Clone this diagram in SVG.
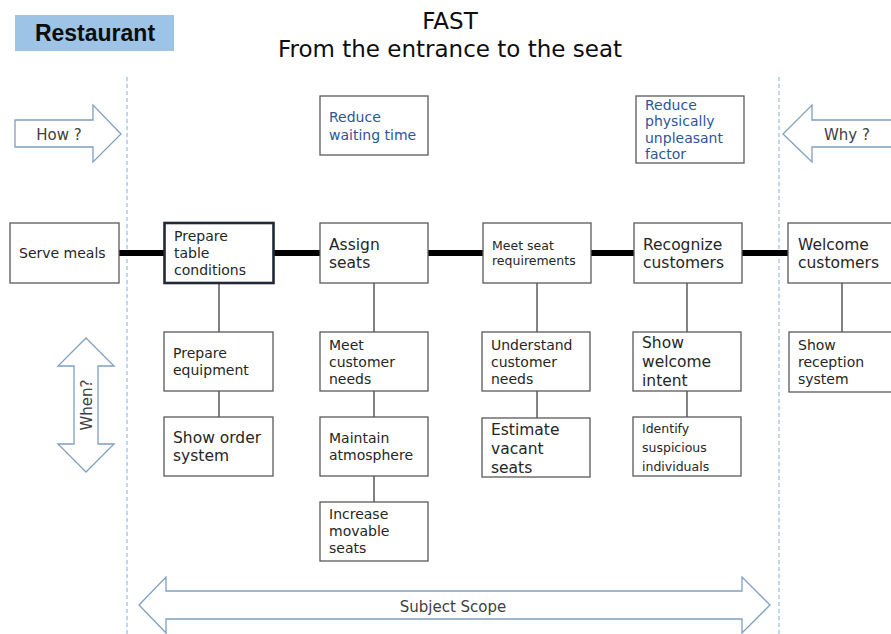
<svg xmlns="http://www.w3.org/2000/svg" width="891" height="634" viewBox="0 0 891 634">
<style>
text{font-family:"DejaVu Sans","Noto Sans",sans-serif;fill:#262626}
.box{fill:#fff;stroke:#595959;stroke-width:1.3}
.bold{fill:#fff;stroke:#1f2a36;stroke-width:2.6}
.t14{font-size:14px}
.t16{font-size:15.5px}
.t12{font-size:12.5px}
.blue{fill:#2f5597;font-size:14px}
.arw{fill:#fff;stroke:#7f9fc4;stroke-width:1.3}
.arwt{font-size:15px;fill:#404040}
.dash{stroke:#9dc3e6;stroke-width:1.3;stroke-dasharray:4 3;fill:none}
.main{stroke:#000;stroke-width:6}
.sub{stroke:#595959;stroke-width:1.5}
</style>
<rect width="891" height="634" fill="#fff"/>

<g id="header">
<rect x="15" y="15" width="159" height="36" fill="#9dc3e6"/>
<text x="95" y="41" text-anchor="middle" style="font-family:'Liberation Sans',Arial,sans-serif;font-weight:bold;font-size:23px;fill:#0d0d0d">Restaurant</text>
<text x="450" y="29" text-anchor="middle" style="font-size:23px;fill:#0d0d0d">FAST</text>
<text x="450" y="57" text-anchor="middle" style="font-size:23px;fill:#0d0d0d">From the entrance to the seat</text>
</g>

<g id="guides">
<line class="dash" x1="127" y1="77" x2="127" y2="634"/>
<line class="dash" x1="779" y1="77" x2="779" y2="634"/>
</g>

<g id="how">
<path class="arw" d="M15,120 H93 V105 L121,134 L93,162 V147 H15 Z"/>
<text class="arwt" x="59" y="140" text-anchor="middle">How ?</text>
</g>
<g id="why">
<path class="arw" d="M895,120 H812 V105 L783,134 L812,162 V147 H895 Z"/>
<text class="arwt" x="847" y="140" text-anchor="middle">Why ?</text>
</g>
<g id="when">
<path class="arw" d="M86,338 L114,366 H98 V444 H114 L86,472 L58,444 H74 V366 H58 Z"/>
<text class="arwt" transform="translate(92,405) rotate(-90)" text-anchor="middle">When?</text>
</g>
<g id="scope">
<path class="arw" d="M139,605 L166,577 V591 H742 V577 L770,605 L742,633 V619 H166 V633 Z"/>
<text class="arwt" x="453" y="612" text-anchor="middle">Subject Scope</text>
</g>

<g id="connectors">
<line class="main" x1="119" y1="253" x2="788" y2="253"/>
<line class="sub" x1="219" y1="283" x2="219" y2="417"/>
<line class="sub" x1="374" y1="283" x2="374" y2="502"/>
<line class="sub" x1="537" y1="283" x2="537" y2="418"/>
<line class="sub" x1="687" y1="283" x2="687" y2="417"/>
<line class="sub" x1="842" y1="283" x2="842" y2="332"/>
</g>

<g id="goal-waiting">
<rect class="box" x="320" y="96" width="108" height="59"/>
<text class="blue" x="329" y="122">Reduce</text>
<text class="blue" x="329" y="140">waiting time</text>
</g>
<g id="goal-physical">
<rect class="box" x="636" y="96" width="108" height="67"/>
<text class="blue" x="645" y="110">Reduce</text>
<text class="blue" x="645" y="126">physically</text>
<text class="blue" x="645" y="143">unpleasant</text>
<text class="blue" x="645" y="159">factor</text>
</g>

<g id="serve-meals">
<rect class="box" x="10" y="223" width="109" height="60"/>
<text class="t14" x="19" y="258">Serve meals</text>
</g>
<g id="prepare-table">
<rect class="bold" x="164.5" y="223" width="109" height="60"/>
<text class="t14" x="174" y="241">Prepare</text>
<text class="t14" x="174" y="258">table</text>
<text class="t14" x="174" y="275">conditions</text>
</g>
<g id="assign-seats">
<rect class="box" x="320" y="223" width="108" height="60"/>
<text class="t16" x="329" y="250">Assign</text>
<text class="t16" x="329" y="268">seats</text>
</g>
<g id="meet-seat">
<rect class="box" x="483" y="223" width="108" height="60"/>
<text class="t12" x="492" y="250">Meet seat</text>
<text class="t12" x="492" y="265">requirements</text>
</g>
<g id="recognize">
<rect class="box" x="634" y="223" width="108" height="60"/>
<text class="t16" x="643" y="250">Recognize</text>
<text class="t16" x="643" y="268">customers</text>
</g>
<g id="welcome">
<rect class="box" x="788" y="223" width="110" height="60"/>
<text class="t16" x="798" y="250">Welcome</text>
<text class="t16" x="798" y="268">customers</text>
</g>

<g id="prepare-equipment">
<rect class="box" x="164" y="332" width="109" height="59"/>
<text class="t14" x="173" y="358">Prepare</text>
<text class="t14" x="173" y="375">equipment</text>
</g>
<g id="meet-customer">
<rect class="box" x="320" y="332" width="108" height="59"/>
<text class="t14" x="329" y="350">Meet</text>
<text class="t14" x="329" y="367">customer</text>
<text class="t14" x="329" y="384">needs</text>
</g>
<g id="understand">
<rect class="box" x="482" y="332" width="108" height="59"/>
<text class="t14" x="491" y="350">Understand</text>
<text class="t14" x="491" y="367">customer</text>
<text class="t14" x="491" y="384">needs</text>
</g>
<g id="show-welcome">
<rect class="box" x="633" y="332" width="108" height="59"/>
<text class="t16" x="642" y="348">Show</text>
<text class="t16" x="642" y="367">welcome</text>
<text class="t16" x="642" y="386">intent</text>
</g>
<g id="show-reception">
<rect class="box" x="789" y="332" width="110" height="60"/>
<text class="t14" x="798" y="350">Show</text>
<text class="t14" x="798" y="367">reception</text>
<text class="t14" x="798" y="384">system</text>
</g>

<g id="show-order">
<rect class="box" x="164" y="417" width="109" height="59"/>
<text class="t16" x="173" y="443">Show order</text>
<text class="t16" x="173" y="461">system</text>
</g>
<g id="maintain">
<rect class="box" x="320" y="417" width="108" height="59"/>
<text class="t14" x="329" y="443">Maintain</text>
<text class="t14" x="329" y="460">atmosphere</text>
</g>
<g id="estimate">
<rect class="box" x="482" y="418" width="108" height="59"/>
<text class="t16" x="491" y="435">Estimate</text>
<text class="t16" x="491" y="454">vacant</text>
<text class="t16" x="491" y="473">seats</text>
</g>
<g id="identify">
<rect class="box" x="633" y="417" width="108" height="59"/>
<text class="t12" x="642" y="433">Identify</text>
<text class="t12" x="642" y="452">suspicious</text>
<text class="t12" x="642" y="471">individuals</text>
</g>

<g id="increase">
<rect class="box" x="320" y="502" width="108" height="59"/>
<text class="t14" x="329" y="519">Increase</text>
<text class="t14" x="329" y="536">movable</text>
<text class="t14" x="329" y="553">seats</text>
</g>
</svg>
